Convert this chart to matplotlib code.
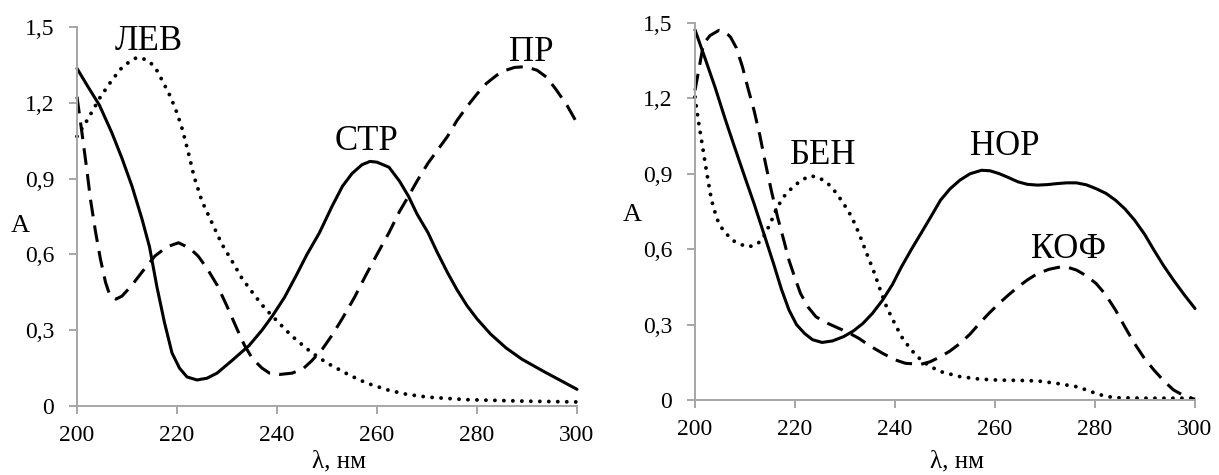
import matplotlib
matplotlib.use("Agg")
import matplotlib.pyplot as plt

plt.rcParams['font.family'] = ['Liberation Serif', 'DejaVu Serif']

# ---------------- Left panel data ----------------
str_x = [200, 202, 204.5, 207, 209, 211, 213, 214.5, 216, 217.5, 219, 220.5, 222, 224, 226, 228,
         231, 234.4, 237, 239.1, 241.5, 243.8, 246, 248.5, 251, 253.1, 255, 257, 258.6, 260, 262.4,
         264.5, 266.3, 268, 270.2, 272, 274.1, 276, 278, 280, 282.7, 285.8, 289, 293.6, 297, 300]
str_y = [1.336, 1.27, 1.19, 1.08, 0.98, 0.87, 0.74, 0.63, 0.47, 0.33, 0.21, 0.15, 0.115, 0.103, 0.11, 0.13,
         0.18, 0.239, 0.30, 0.357, 0.43, 0.515, 0.60, 0.686, 0.79, 0.87, 0.92, 0.955, 0.968, 0.965, 0.945,
         0.89, 0.83, 0.76, 0.686, 0.61, 0.528, 0.46, 0.397, 0.345, 0.285, 0.23, 0.185, 0.134, 0.098, 0.066]

lev_x = [200, 202, 204.7, 207, 209, 211, 212.1, 214, 215.6, 217, 218.7, 220, 221.1, 222.3, 223.4, 225,
         227.3, 229, 231.2, 233, 235.1, 237, 239, 242.9, 246.8, 250, 254.6, 258, 262.4, 266, 270.2, 278, 290, 300]
lev_y = [1.067, 1.13, 1.224, 1.29, 1.34, 1.37, 1.38, 1.37, 1.342, 1.29, 1.224, 1.16, 1.093, 1.0, 0.909, 0.81,
         0.712, 0.64, 0.567, 0.505, 0.449, 0.40, 0.357, 0.278, 0.213, 0.17, 0.121, 0.09, 0.062, 0.046, 0.035, 0.025, 0.019, 0.016]

pr_x = [200, 201, 202, 202.7, 203.7, 204.7, 205.7, 206.6, 207.8, 209, 210.9, 213, 215.6, 218, 220.3, 222.5,
        224.2, 226, 228.1, 230, 232, 233.5, 235.1, 237, 238.5, 240.6, 243, 245.2, 247, 249.1, 251, 253,
        255.5, 257.7, 260, 262.4, 264.5, 266.3, 268, 270.2, 272, 274.1, 276, 278, 280, 281.9, 284, 285.8,
        287.5, 288.9, 290.5, 292, 294, 295.9, 298, 300]
pr_y = [1.224, 1.08, 0.93, 0.817, 0.69, 0.58, 0.49, 0.436, 0.423, 0.435, 0.476, 0.53, 0.594, 0.63, 0.646, 0.625,
        0.594, 0.545, 0.476, 0.395, 0.305, 0.24, 0.187, 0.15, 0.13, 0.125, 0.13, 0.147, 0.18, 0.226, 0.28, 0.344,
        0.43, 0.515, 0.60, 0.686, 0.77, 0.83, 0.89, 0.961, 1.01, 1.067, 1.13, 1.185, 1.235, 1.277, 1.31, 1.329,
        1.34, 1.342, 1.338, 1.329, 1.30, 1.25, 1.19, 1.12]

# ---------------- Right panel data ----------------
nor_x = [200, 202, 204, 206, 207.9, 210, 211.8, 213.8, 215.7, 217.3, 218.8, 220.3, 221.9, 223.5, 225.4, 227.5,
         229.7, 231.7, 233.6, 235.5, 237.5, 239.5, 241.3, 243.3, 245.2, 247.2, 249.1, 251, 253, 255, 257.3, 259,
         260.8, 262.7, 264.6, 266.5, 268.5, 270.5, 272.4, 274.3, 276.3, 278.3, 280.2, 282.2, 284.1, 286, 287.9,
         289.9, 291.8, 293.7, 295.7, 297.8, 300]
nor_y = [1.473, 1.36, 1.245, 1.12, 1.007, 0.885, 0.782, 0.66, 0.543, 0.44, 0.358, 0.30, 0.265, 0.24, 0.229, 0.235,
         0.252, 0.275, 0.305, 0.345, 0.397, 0.46, 0.53, 0.60, 0.663, 0.73, 0.795, 0.84, 0.875, 0.90, 0.914, 0.912,
         0.901, 0.885, 0.868, 0.858, 0.855, 0.857, 0.861, 0.864, 0.864, 0.856, 0.841, 0.822, 0.795, 0.76, 0.716,
         0.66, 0.596, 0.535, 0.477, 0.42, 0.364]

kof_x = [200, 201, 201.7, 203, 204.8, 206, 207.1, 208.3, 209.5, 210.6, 211.8, 213, 214.1, 215.3, 216.5, 217.7,
         218.8, 220, 221.1, 222.6, 224.2, 226, 228.1, 230.5, 232.8, 235, 237.5, 240, 242.1, 245.2, 247, 249.1,
         251, 253, 255, 256.9, 258.8, 260.8, 262.7, 264.6, 266.5, 268.5, 270.8, 273.2, 274.7, 276.3, 278.2,
         280.2, 282.1, 284.1, 286, 287.9, 289.9, 291.8, 293.8, 295.7, 298, 300]
kof_y = [1.232, 1.34, 1.418, 1.45, 1.471, 1.465, 1.444, 1.40, 1.325, 1.24, 1.153, 1.05, 0.941, 0.83, 0.729, 0.64,
         0.556, 0.485, 0.424, 0.37, 0.331, 0.31, 0.291, 0.27, 0.245, 0.215, 0.186, 0.16, 0.146, 0.142, 0.152, 0.172,
         0.195, 0.225, 0.262, 0.305, 0.345, 0.384, 0.418, 0.45, 0.478, 0.503, 0.52, 0.53, 0.527, 0.517, 0.495,
         0.464, 0.42, 0.358, 0.29, 0.225, 0.165, 0.119, 0.075, 0.04, 0.015, 0.003]

ben_x = [200, 200.6, 201.3, 202.3, 203.3, 204.4, 205.6, 207.5, 210.3, 212, 213.4, 215, 216.5, 218, 219.6, 221.3,
         223.1, 224.8, 226.6, 228.2, 229.7, 231.3, 232.8, 234.3, 235.9, 237.1, 238.3, 239.8, 241.3, 243.2, 245.2,
         247.1, 249.1, 253, 257, 260.8, 264.7, 268.5, 272.4, 276.3, 278.3, 280.2, 282.1, 284.1, 290, 300]
ben_y = [1.206, 1.12, 1.034, 0.91, 0.795, 0.72, 0.676, 0.635, 0.609, 0.615, 0.636, 0.70, 0.769, 0.815, 0.848, 0.875,
         0.892, 0.885, 0.861, 0.825, 0.782, 0.73, 0.663, 0.585, 0.504, 0.435, 0.371, 0.31, 0.252, 0.20, 0.159,
         0.133, 0.113, 0.093, 0.083, 0.079, 0.078, 0.076, 0.066, 0.053, 0.04, 0.026, 0.015, 0.009, 0.007, 0.007]

x_ticks = [200, 220, 240, 260, 280, 300]
y_ticks = [0, 0.3, 0.6, 0.9, 1.2, 1.5]
y_tick_labels = ['0', '0,3', '0,6', '0,9', '1,2', '1,5']
x_label = 'λ, нм'
y_label = 'A'

left_labels = [('ЛЕВ', 214.4, 1.441), ('ПР', 290.8, 1.40), ('СТР', 258.0, 1.047)]
right_labels = [('БЕН', 225.6, 0.974), ('НОР', 261.9, 1.007), ('КОФ', 274.7, 0.599)]

W, H = 1219, 475
fig = plt.figure(figsize=(W / 100, H / 100), dpi=100)

ax1 = fig.add_axes([77 / W, (H - 406) / H, 500 / W, 379 / H])
ax2 = fig.add_axes([695 / W, (H - 400) / H, 500 / W, 377 / H])

LW = 2.2
solid = dict(color='black', lw=LW, linestyle='-', solid_capstyle='round', clip_on=False)
dashed = dict(color='black', lw=LW, linestyle=(0, (5.5, 3.0)), dash_capstyle='butt', clip_on=False)
dotted = dict(color='black', lw=2.8, linestyle=(0, (0.01, 2.3)), dash_capstyle='round', clip_on=False)

ax1.plot(str_x, str_y, **solid)
ax1.plot(pr_x, pr_y, **dashed)
ax1.plot(lev_x, lev_y, **dotted)

ax2.plot(nor_x, nor_y, **solid)
ax2.plot(kof_x, kof_y, **dashed)
ax2.plot(ben_x, ben_y, **dotted)

xlabel_pos = {ax1: (0.525, -0.118), ax2: (0.525, -0.134)}
ylabel_pos = {ax1: (-0.114, 0.475), ax2: (-0.126, 0.49)}
for ax, labels in ((ax1, left_labels), (ax2, right_labels)):
    ax.set_xlim(200, 300)
    ax.set_ylim(0, 1.5)
    ax.set_xticks(x_ticks)
    ax.set_xticklabels([str(v) for v in x_ticks])
    ax.set_yticks(y_ticks)
    ax.set_yticklabels(y_tick_labels)
    for s in ('top', 'right'):
        ax.spines[s].set_visible(False)
    for s in ('left', 'bottom'):
        ax.spines[s].set_color('#a6a6a6')
        ax.spines[s].set_linewidth(1.4)
    ax.tick_params(axis='both', direction='out', length=5.5, width=1.4, color='#a6a6a6',
                   labelsize=17, labelcolor='black')
    ax.tick_params(axis='y', pad=11)
    ax.tick_params(axis='x', pad=8)
    ax.set_xlabel(x_label, fontsize=18, va='top')
    ax.set_ylabel(y_label, fontsize=19, rotation=0, va='center', ha='center')
    ax.xaxis.set_label_coords(*xlabel_pos[ax])
    ax.yaxis.set_label_coords(*ylabel_pos[ax])
    ax.patch.set_visible(False)
    for txt, lx, ly in labels:
        ax.text(lx, ly, txt, fontsize=25, ha='center', va='center')

fig.savefig('out.png', dpi=100)
